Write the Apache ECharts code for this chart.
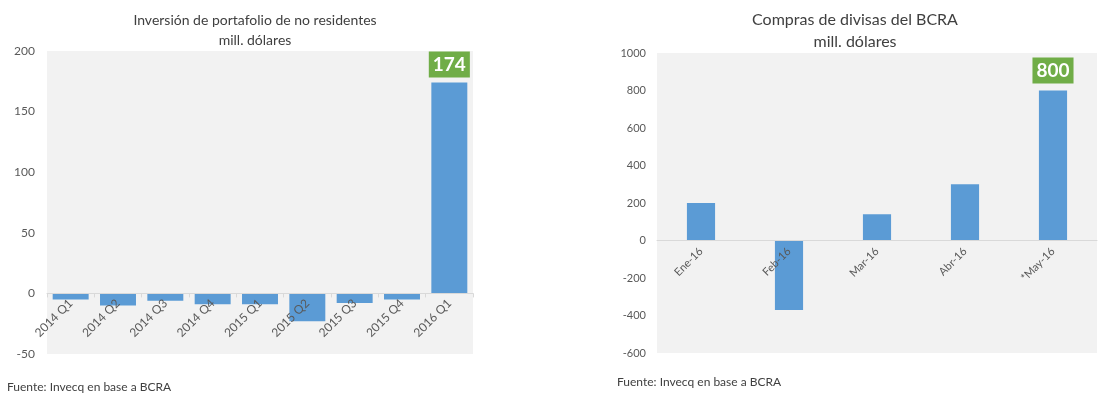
<!DOCTYPE html>
<html><head><meta charset="utf-8">
<script src="https://cdn.jsdelivr.net/npm/echarts@6/dist/echarts.min.js"></script>
<style>html,body{margin:0;padding:0;background:#fff}#c{width:1116px;height:399px}</style>
</head><body><div id="c"></div>
<script>
const leftCategories = ['2014 Q1','2014 Q2','2014 Q3','2014 Q4','2015 Q1','2015 Q2','2015 Q3','2015 Q4','2016 Q1'];
const leftValues = [-5, -10, -6, -9, -9, -23, -8, -5, 174];
const leftTicks = [-50, 0, 50, 100, 150, 200];
const rightCategories = ['Ene-16','Feb-16','Mar-16','Abr-16','*May-16'];
const rightValues = [200, -370, 140, 300, 800];
const rightTicks = [-600, -400, -200, 0, 200, 400, 600, 800, 1000];

const FONT = 'Lato, "Open Sans", sans-serif';
const chart = echarts.init(document.getElementById('c'), null, {renderer: 'canvas'});

// grid geometry (layout only)
const G1 = {left: 47, right: 643, top: 51, bottom: 45};
const G2 = {left: 657, right: 19, top: 53, bottom: 46};
const H = 399;
function zeroOffset(g, ticks) {
  const h = H - g.top - g.bottom;
  const lo = ticks[0], hi = ticks[ticks.length - 1];
  return -(h * (0 - lo) / (hi - lo));
}

function withLastLabel(values, dist) {
  return values.map((v, i) => i === values.length - 1 ? {
    value: v,
    label: {show: true, position: 'top', distance: dist, backgroundColor: '#70AD47',
      color: '#fff', fontWeight: 'bold', fontSize: 19, fontFamily: FONT, padding: [4, 4, 3, 4]}
  } : v);
}

chart.setOption({
  animation: false,
  title: [
    {text: 'Inversión de portafolio de no residentes\nmill. dólares', left: 250, top: 5, textAlign: 'center',
     textStyle: {fontFamily: FONT, fontSize: 14, fontWeight: 'normal', color: '#404040', lineHeight: 20}},
    {text: 'Compras de divisas del BCRA\nmill. dólares', left: 850, top: 4, textAlign: 'center',
     textStyle: {fontFamily: FONT, fontSize: 16, fontWeight: 'normal', color: '#404040', lineHeight: 22}}
  ],
  graphic: [
    {type: 'text', left: 7, top: 381, style: {text: 'Fuente: Invecq en base a BCRA', font: '12px ' + FONT, fill: '#404040'}},
    {type: 'text', left: 617, top: 376, style: {text: 'Fuente: Invecq en base a BCRA', font: '12px ' + FONT, fill: '#404040'}}
  ],
  grid: [
    Object.assign({show: true, backgroundColor: '#f2f2f2', borderWidth: 0}, G1),
    Object.assign({show: true, backgroundColor: '#f2f2f2', borderWidth: 0}, G2)
  ],
  xAxis: [
    {type: 'category', gridIndex: 0, data: leftCategories, offset: zeroOffset(G1, leftTicks), z: 5,
     axisLine: {onZero: false, lineStyle: {color: '#d9d9d9'}},
     axisTick: {show: true, length: 4, lineStyle: {color: '#d9d9d9'}},
     axisLabel: {rotate: 45, margin: 8, fontSize: 12, fontFamily: FONT, color: '#595959'}},
    {type: 'category', gridIndex: 1, data: rightCategories, offset: zeroOffset(G2, rightTicks), z: 5,
     axisLine: {onZero: false, lineStyle: {color: '#d9d9d9'}},
     axisTick: {show: false},
     axisLabel: {rotate: 45, margin: 9, fontSize: 11, fontFamily: FONT, color: '#595959'}}
  ],
  yAxis: [
    {type: 'value', gridIndex: 0, min: leftTicks[0], max: leftTicks[leftTicks.length - 1], interval: 50,
     splitLine: {show: false}, axisLine: {show: false}, axisTick: {show: false},
     axisLabel: {margin: 12, fontSize: 12, fontFamily: FONT, color: '#595959', formatter: v => String(v)}},
    {type: 'value', gridIndex: 1, min: rightTicks[0], max: rightTicks[rightTicks.length - 1], interval: 200,
     splitLine: {show: false}, axisLine: {show: false}, axisTick: {show: false},
     axisLabel: {margin: 11, fontSize: 11, fontFamily: FONT, color: '#595959', formatter: v => String(v)}}
  ],
  series: [
    {type: 'bar', xAxisIndex: 0, yAxisIndex: 0, data: withLastLabel(leftValues, 5), z: 2,
     barCategoryGap: '24%', itemStyle: {color: '#5B9BD5'}},
    {type: 'bar', xAxisIndex: 1, yAxisIndex: 1, data: withLastLabel(rightValues, 7), z: 2,
     barCategoryGap: '68%', itemStyle: {color: '#5B9BD5'}}
  ]
});
</script></body></html>
